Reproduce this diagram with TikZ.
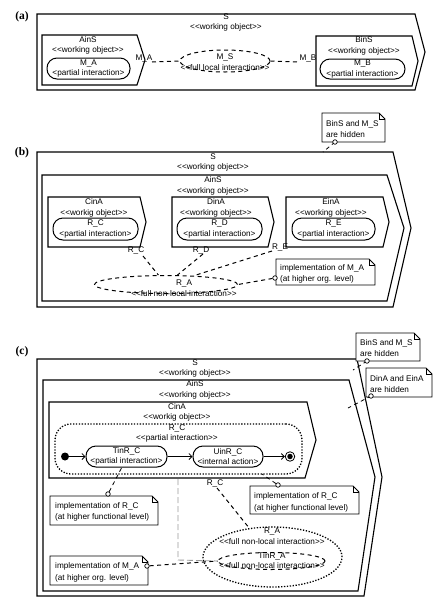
\documentclass[tikz,border=0pt]{standalone}
\usepackage{fontspec}
\setmainfont{Liberation Sans}
\newfontfamily\lserif{Liberation Serif}
\usetikzlibrary{shapes.geometric,arrows.meta}
\newcommand\lchev{<\kern0pt<}
\newcommand\rchev{>\kern0pt>}
% pentagon "working object" box: name, x1, y1, x2top, xapex, yapex, x2bottom, y2
\newcommand\wob[8]{%
  \draw[wobox] (#2,#3) -- (#4,#3) -- (#5,#6) -- (#7,#8) -- (#2,#8) -- cycle;
  \coordinate (#1) at (#5,#6);}
% note with folded corner: name, x1, y1, x2, y2
\newcommand\mynote[5]{%
  \draw[notebox] (#2,#3) -- (#4-6,#3) -- (#4,#3+6) -- (#4,#5) -- (#2,#5) -- cycle;
  \draw[line width=0.6pt] (#4-6,#3) -- (#4-6,#3+6) -- (#4,#3+6);
  \coordinate (#1) at (#2,#3);}
\tikzset{
  wobox/.style={draw, line width=1.1pt, line join=miter},
  lbl/.style={font=\fontsize{8.2}{10.5}\selectfont, align=center, inner sep=0pt},
  notetext/.style={font=\fontsize{8.2}{11.5}\selectfont, align=left, inner sep=0pt, anchor=west},
  notebox/.style={draw, line width=0.8pt, fill=white},
  rbox/.style={draw, line width=1pt, rounded corners=10pt, inner sep=0pt},
  conn/.style={line width=1pt, dash pattern=on 4pt off 3.5pt},
  dotline/.style={line width=1.3pt, dash pattern=on 1.3pt off 1.6pt},
  grayconn/.style={line width=0.9pt, draw=black!40, dash pattern=on 6pt off 3pt},
  pin/.style={circle, draw, fill=white, inner sep=0pt, minimum size=4.5pt, line width=0.7pt},
  panel/.style={font=\lserif\bfseries\fontsize{11.5}{13}\selectfont, inner sep=0pt},
  ell/.style={ellipse, draw, inner sep=0pt},
  arr/.style={line width=0.8pt, -{Straight Barb[length=3pt,width=6pt]}},
}
\begin{document}
\begin{tikzpicture}[x=1pt,y=-1pt]
\useasboundingbox (0,0) rectangle (437,598);

% ================= (a) =================
\node[panel] (pa) at (22,17) {(a)};
\wob{aS}{37}{14}{415}{425}{52}{415}{90}
\node[lbl] (aSt) at (226,22.5) {S\\\lchev working object\rchev};
\wob{aA}{42}{35}{137}{145}{60}{137}{85}
\node[lbl] (aAt) at (88,45.5) {AinS\\\lchev working object\rchev};
\node[rbox, minimum width=83pt, minimum height=21pt] (MA) at (88.5,68.5) {};
\node[lbl] (MAt) at (88.5,68.5) {M\_A\\<partial interaction>};
\wob{aB}{316}{36}{412}{418}{61}{412}{86}
\node[lbl] (aBt) at (364,46) {BinS\\\lchev working object\rchev};
\node[rbox, minimum width=85pt, minimum height=20pt] (MB) at (362.5,69) {};
\node[lbl] (MBt) at (362.5,69) {M\_B\\<partial interaction>};
\node[ell, conn, minimum width=90pt, minimum height=22pt] (MS) at (225,61) {};
\node[lbl] (MSt) at (225,62) {M\_S\\\lchev full local interaction\rchev};
\node[lbl] (MAl) at (144,58) {M\_A};
\node[lbl] (MBl) at (308,58) {M\_B};
\coordinate (aL) at (152,62);
\coordinate (aR) at (300,62);
\draw[conn] (aL) -- (MS.west);
\draw[conn] (MS.east) -- (aR);

% ================= (b) =================
\node[panel] (pb) at (22,153) {(b)};
\wob{bS}{37}{152}{393}{411}{228}{393}{307}
\node[lbl] (bSt) at (213,162.5) {S\\\lchev working object\rchev};
\wob{bA}{42}{175}{387}{404}{228}{387}{301}
\node[lbl] (bAt) at (213,186) {AinS\\\lchev working object\rchev};
\wob{bC}{48}{197}{140}{146}{222}{140}{247}
\node[lbl] (bCt) at (94,208) {CinA\\\lchev workig object\rchev};
\node[rbox, minimum width=85pt, minimum height=22pt] (RC) at (95.5,229) {};
\node[lbl] (RCt) at (95.5,229) {R\_C\\<partial interaction>};
\wob{bD}{172}{197}{268}{274}{222}{268}{247}
\node[lbl] (bDt) at (216,208) {DinA\\\lchev working object\rchev};
\node[rbox, minimum width=85pt, minimum height=22pt] (RD) at (219.5,229) {};
\node[lbl] (RDt) at (219.5,229) {R\_D\\<partial interaction>};
\wob{bE}{286}{197}{383}{389}{222}{383}{247}
\node[lbl] (bEt) at (331,208) {EinA\\\lchev working object\rchev};
\node[rbox, minimum width=83pt, minimum height=22pt] (RE) at (333.5,229) {};
\node[lbl] (REt) at (333.5,229) {R\_E\\<partial interaction>};
\node[ell, conn, minimum width=143pt, minimum height=18pt] (RA) at (166,284.5) {};
\node[lbl] (RAt) at (184,288) {R\_A\\\lchev full non-local interaction\rchev};
\node[lbl] (lRC) at (136,250) {R\_C};
\node[lbl] (lRD) at (201,250) {R\_D};
\node[lbl] (lRE) at (280,247) {R\_E};
\coordinate (cRC) at (143,256);
\coordinate (cRD) at (203,254);
\coordinate (cRE) at (272,251);
\draw[conn] (cRC) -- (RA);
\draw[conn] (cRD) -- (RA);
\draw[conn] (cRE) -- (RA);
% notes (b)
\coordinate (tb1) at (323,152);
\mynote{nb1}{322}{113}{385}{142}
\node[notetext] (nb1t) at (326,129) {BinS and M\_S\\are hidden};
\draw[conn, line width=0.8pt] (335,142) -- (tb1);
\node[pin] (pb1) at (335,142) {};
\mynote{nb2}{276}{259}{375}{285}
\node[notetext] (nb2t) at (280,274) {implementation of M\_A\\(at higher org. level)};
\node[pin] (pb2) at (275,278) {};
\draw[conn] (pb2) -- (RA.east);

% ================= (c) =================
\node[panel] (pc) at (22,352) {(c)};
\wob{cS}{37}{359}{357}{382}{477}{364}{596}
\node[lbl] (cSt) at (195,368.5) {S\\\lchev working object\rchev};
\wob{cA}{43}{380}{349}{375}{477}{358}{591}
\node[lbl] (cAt) at (195,390) {AinS\\\lchev working object\rchev};
\wob{cC}{49}{402}{307}{316}{440}{305}{478}
\node[lbl] (cCt) at (177,412.5) {CinA\\\lchev workig object\rchev};
\node[rbox, dotline, rounded corners=16pt, minimum width=247pt, minimum height=50pt] (RCc) at (178.5,449) {};
\node[lbl] (RCct) at (177,433.5) {R\_C\\\lchev partial interaction\rchev};
\node[circle, fill=black, minimum size=8pt, inner sep=0pt] (st) at (65,456.5) {};
\node[rbox, minimum width=81pt, minimum height=21pt] (T) at (126.5,456.5) {};
\node[lbl] (Tt) at (126.5,456.5) {TinR\_C\\<partial interaction>};
\node[rbox, minimum width=70pt, minimum height=21pt] (U) at (228,456.5) {};
\node[lbl] (Ut) at (228,456.5) {UinR\_C\\<internal action>};
\node[circle, draw, line width=0.8pt, minimum size=9.5pt, inner sep=0pt] (en) at (290,456.5) {};
\node[circle, fill=black, minimum size=5.5pt, inner sep=0pt] (enc) at (290,456.5) {};
\draw[arr] (st) -- (T);
\draw[arr] (T) -- (U);
\draw[arr] (U) -- (en);
% gray dependency line
\coordinate (g1) at (178,479);
\coordinate (g2) at (178,560);
% outer and inner R_A
\node[ell, dotline, minimum width=139pt, minimum height=60pt] (RAc) at (272.5,557) {};
\node[lbl] (RAct) at (272,536) {R\_A\\\lchev full non-local interaction\rchev};
\node[ell, conn, minimum width=107pt, minimum height=17pt] (TRA) at (271.5,561) {};
\node[lbl] (TRAt) at (272,560.5) {TinR\_A\\\lchev full non-local interaction\rchev};
\draw[grayconn] (g1) -- (g2) -- (TRA.west);
\node[lbl] (lRCc) at (215,483) {R\_C};
\coordinate (cRCc) at (217,488);
\draw[conn] (cRCc) -- (RAc);
% notes (c)
\coordinate (tc1) at (353,370);
\coordinate (tc2) at (348,408);
\mynote{nc1}{356}{333}{420}{361}
\node[notetext] (nc1t) at (360,348) {BinS and M\_S\\are hidden};
\draw[conn, line width=0.8pt] (367,361) -- (tc1);
\node[pin] (pc1) at (367,361) {};
\mynote{nc2}{366}{368}{432}{397}
\node[notetext] (nc2t) at (370,384) {DinA and EinA\\are hidden};
\draw[conn, line width=0.8pt] (371,396) -- (tc2);
\node[pin] (pc2) at (371,396) {};
\coordinate (tT) at (122,467);
\mynote{nc3}{50}{496}{158}{525}
\node[notetext] (nc3t) at (55,512) {implementation of R\_C\\(at higher functional level)};
\node[pin] (pc3) at (108,494) {};
\draw[conn, line width=0.8pt] (pc3) -- (tT);
\coordinate (tR) at (262,474);
\mynote{nc4}{250}{486}{359}{514}
\node[notetext] (nc4t) at (254,502.5) {implementation of R\_C\\(at higher functional level)};
\node[pin] (pc4) at (278,485) {};
\draw[conn, line width=0.8pt] (pc4) -- (tR);
\mynote{nc5}{50}{556}{148}{585}
\node[notetext] (nc5t) at (55,572.5) {implementation of M\_A\\(at higher org. level)};
\node[pin] (pc5) at (147,566) {};
\draw[conn] (pc5) -- (TRA.west);
\end{tikzpicture}
\end{document}
